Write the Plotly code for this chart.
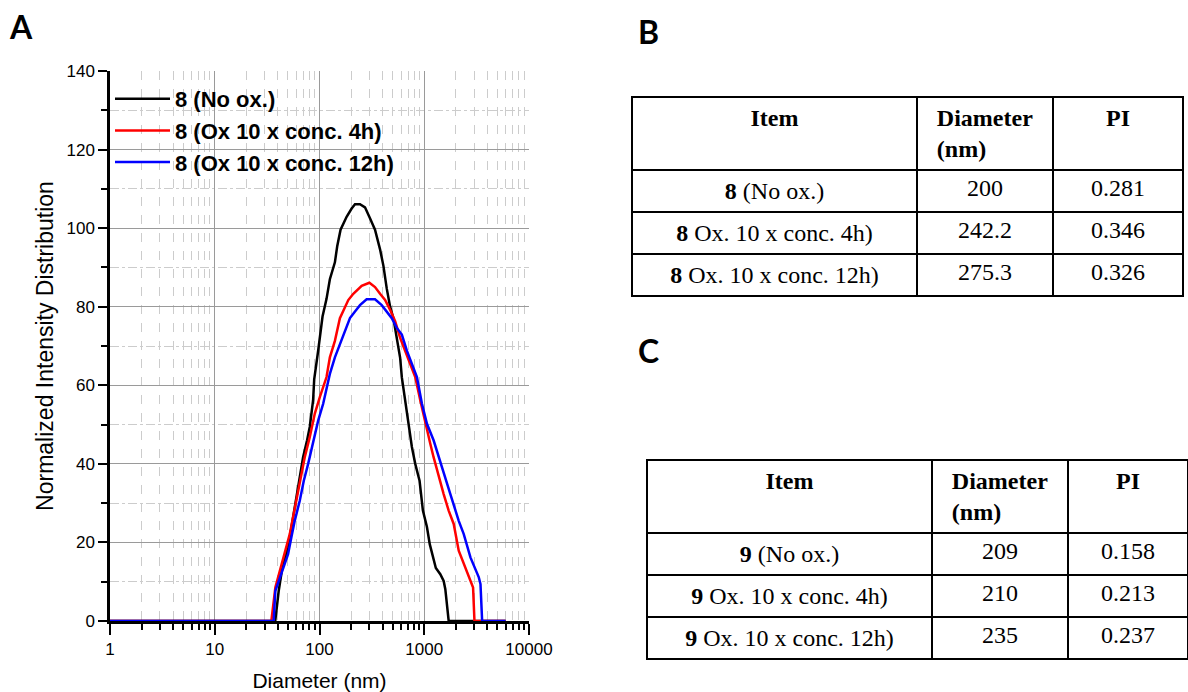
import plotly.graph_objects as go

W, H = 1188, 692

# ---------------- Panel A data (diameter in nm, normalized intensity) ----------------
d_no_ox = [1, 37.8, 40.8, 44.2, 50.1, 53.9, 58.0, 63.8, 69.7, 76.1,
           80.7, 86.9, 89.0, 97.1, 106.9, 116.7, 125.6, 140.3, 147.6, 158.9,
           181.5, 202.7, 218.2, 243.6, 271.8, 303.3, 338.8, 378.5, 407.6, 438.6,
           472.2, 508.1, 547, 588.8, 611, 657.7, 707.9, 762.1, 820.3, 902,
           971, 1060, 1130, 1200, 1290, 1423, 1532, 1589, 1711, 5975]
i_no_ox = [0, 0, 7.7, 13.6, 18.7, 23.8, 28.9, 35.7, 41.7, 46.0,
           49.4, 56.2, 61.5, 68.8, 77.5, 82.0, 87.0, 91.3, 95.4, 99.6,
           102.9, 105.0, 106.1, 106.1, 105.3, 102.5, 99.6, 94.6, 90.4, 84.6,
           80.0, 77.0, 72.0, 67.0, 62.0, 56.2, 51.1, 44.3, 40.0, 35.7,
           28.1, 24.0, 19.5, 16.5, 13.5, 11.9, 10.2, 8.1, 0, 0]

d_ox4 = [1, 34.7, 37.9, 43.2, 48.3, 52.0, 55.9, 60.2, 64.8, 72.3,
         80.7, 90.2, 100.7, 116.7, 125.6, 140.3, 156.6, 174.9, 188.3, 210.2,
         252.8, 299.3, 338.8, 378.5, 422.7, 472.2, 527.3, 588.8, 657.7, 734.5,
         820.3, 916.1, 1023, 1142, 1228, 1372, 1532, 1711, 1911, 2134,
         2383, 2760, 2925, 3015, 5975]
i_ox4 = [0, 0, 8.5, 14.0, 18.3, 22.1, 26.4, 30.6, 35.7, 41.7,
         46.8, 52.8, 57.0, 62.1, 67.1, 71.3, 77.1, 80.0, 81.7, 83.3,
         85.3, 86.1, 85.0, 83.3, 81.7, 79.2, 76.3, 72.1, 68.8, 65.4,
         62.1, 56.2, 50.2, 45.1, 41.7, 36.6, 32.3, 28.1, 24.7, 17.9,
         14.5, 10.2, 8.5, 0, 0]

d_ox12 = [1, 36.5, 37.9, 43.2, 50.1, 53.9, 58.0, 64.8, 70.8, 77.9,
          86.9, 97.1, 108.4, 125.6, 140.3, 156.6, 174.9, 195.4, 218.2, 243.6,
          281.8, 338.8, 392.6, 438.6, 489.8, 547, 611, 682.3, 762.1, 851.1,
          950.4, 1061, 1228, 1372, 1589, 1775, 2134, 2383, 2760, 3318,
          3443, 3570, 5975]
i_ox12 = [0, 0, 7.7, 11.9, 17.0, 21.3, 25.5, 30.6, 35.7, 40.0,
          45.1, 51.0, 55.3, 62.9, 67.1, 70.4, 73.8, 77.1, 78.8, 80.4,
          81.9, 81.9, 80.4, 78.8, 77.1, 74.6, 72.9, 68.8, 65.4, 62.1,
          55.3, 50.2, 46.0, 41.7, 36.6, 32.3, 25.5, 22.1, 16.2, 11.1,
          9.4, 0, 0]

series_names = ["8 (No ox.)", "8 (Ox 10 x conc. 4h)", "8 (Ox 10 x conc. 12h)"]
series_colors = ["#000000", "#ff0000", "#0000ff"]

# ---------------- Panel B / C table data ----------------
table_header = ["<b>Item</b>", "<b>Diameter<br>(nm)</b>", "<b>PI</b>"]
b_items = ["<b>8</b> (No ox.)", "<b>8</b> Ox. 10 x conc. 4h)", "<b>8</b> Ox. 10 x conc. 12h)"]
b_diam = ["200", "242.2", "275.3"]
b_pi = ["0.281", "0.346", "0.326"]
c_items = ["<b>9</b> (No ox.)", "<b>9</b> Ox. 10 x conc. 4h)", "<b>9</b> Ox. 10 x conc. 12h)"]
c_diam = ["209", "210", "235"]
c_pi = ["0.158", "0.213", "0.237"]

SANS = "Liberation Sans"
SERIF = "Liberation Serif"
TFONT = 24

fig = go.Figure()
for d, i, name, col in zip([d_no_ox, d_ox4, d_ox12], [i_no_ox, i_ox4, i_ox12],
                           series_names, series_colors):
    fig.add_trace(go.Scatter(x=d, y=i, mode="lines", name=name,
                             line=dict(color=col, width=2.5)))


def make_table(items, diam, pi, xdom, ydom, widths):
    return go.Table(
        domain=dict(x=xdom, y=ydom),
        columnwidth=widths,
        header=dict(values=table_header, height=69, align="center",
                    line=dict(color="black", width=2), fill=dict(color="white"),
                    font=dict(family=SERIF, size=TFONT, color="black")),
        cells=dict(values=[items, diam, pi], height=41, align="center",
                   line=dict(color="black", width=2), fill=dict(color="white"),
                   font=dict(family=SERIF, size=TFONT, color="black")),
    )


fig.add_trace(make_table(b_items, b_diam, b_pi,
                         [632 / W, 1183 / W], [(H - 310) / H, (H - 97) / H],
                         [285, 136, 130]))
fig.add_trace(make_table(c_items, c_diam, c_pi,
                         [647 / W, 1.0], [(H - 680) / H, (H - 460) / H],
                         [285, 136, 120]))

grid_major = "#9a9a9a"
grid_minor = "#cccccc"

fig.update_layout(
    width=W, height=H,
    margin=dict(l=0, r=0, t=0, b=0),
    paper_bgcolor="white", plot_bgcolor="white",
    font=dict(family=SANS, color="black"),
    showlegend=True,
    legend=dict(x=110 / W, y=1 - 78 / H, xanchor="left", yanchor="top",
                bgcolor="rgba(0,0,0,0)", itemwidth=55, tracegroupgap=0,
                font=dict(family=SANS, size=22, color="black", weight="bold")),
    xaxis=dict(
        domain=[110 / W, 529 / W], type="log", range=[0, 4], dtick=1,
        tickformat="d", automargin=False,
        showline=True, linewidth=2.5, linecolor="black",
        ticks="outside", ticklen=11, tickwidth=2, tickcolor="black",
        tickfont=dict(family=SANS, size=17, color="black"),
        showgrid=True, gridcolor=grid_major, gridwidth=1, zeroline=False,
        minor=dict(dtick="D1", ticks="outside", ticklen=6, tickwidth=2,
                   tickcolor="black", showgrid=True, gridcolor=grid_minor,
                   griddash="dash", gridwidth=1),
        title=dict(text="Diameter (nm)", font=dict(family=SANS, size=21, color="black"),
                   standoff=16),
        anchor="y",
    ),
    yaxis=dict(
        domain=[(H - 621) / H, (H - 71) / H], range=[0, 140], dtick=20,
        automargin=False,
        showline=True, linewidth=2.5, linecolor="black",
        ticks="outside", ticklen=9, tickwidth=2, tickcolor="black",
        tickfont=dict(family=SANS, size=17, color="black"),
        showgrid=True, gridcolor=grid_major, gridwidth=1, zeroline=False,
        minor=dict(dtick=10, ticks="outside", ticklen=6, tickwidth=2,
                   tickcolor="black", showgrid=True, gridcolor=grid_minor,
                   griddash="dashdot", gridwidth=1),
        title=dict(text="Normalized Intensity Distribution",
                   font=dict(family=SANS, size=23, color="black"), standoff=7),
        anchor="x",
    ),
)

panel_font = dict(family="Lato", size=32, color="black", weight="bold")
for label, px, py in [("A", 21, 27), ("B", 648, 31), ("C", 648, 350)]:
    fig.add_annotation(text=label, x=px / W, y=1 - py / H, xref="paper", yref="paper",
                       xanchor="center", yanchor="middle", showarrow=False, font=panel_font)

fig.write_html("out.html", config={"displayModeBar": False},
               post_script="document.body.style.margin='0px';")
